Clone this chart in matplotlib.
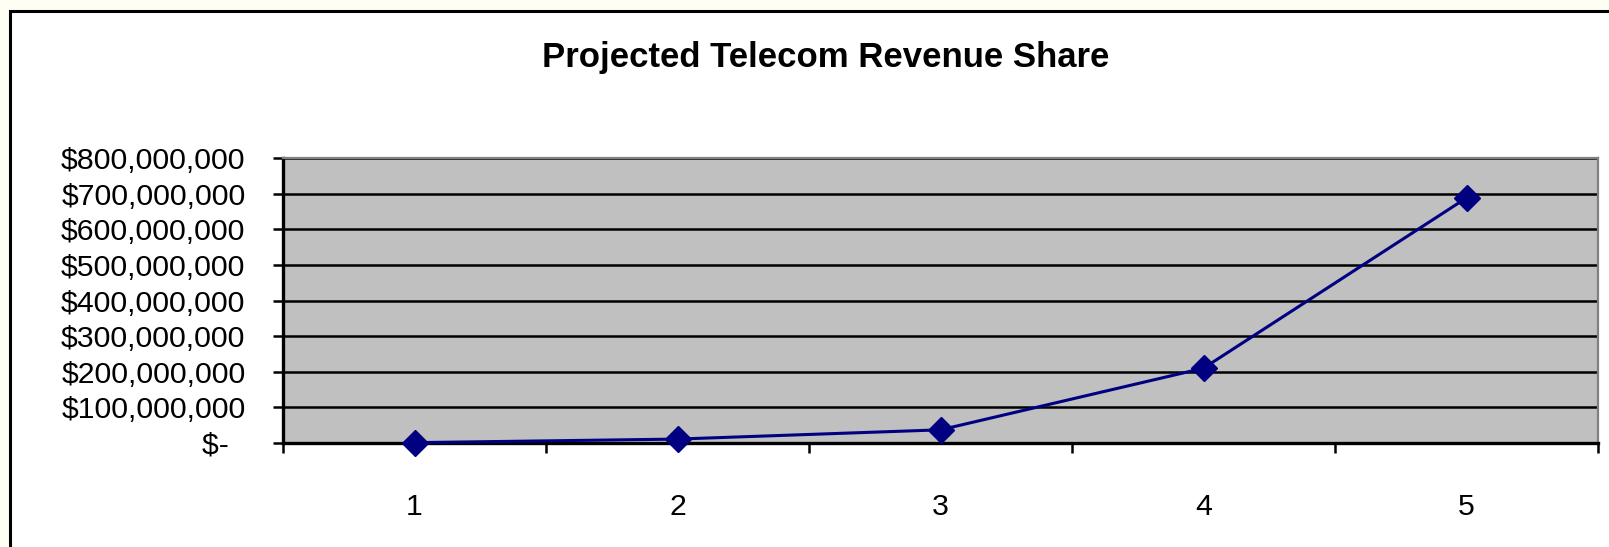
import matplotlib
matplotlib.use("Agg")
import matplotlib.pyplot as plt
from matplotlib.patches import Rectangle
from matplotlib.ticker import FixedLocator

years = [1, 2, 3, 4, 5]
revenue = [1_000_000, 11_000_000, 37_000_000, 210_000_000, 688_000_000]
y_ticks = [0, 100e6, 200e6, 300e6, 400e6, 500e6, 600e6, 700e6, 800e6]
y_labels = ["$-  ", "$100,000,000", "$200,000,000", "$300,000,000", "$400,000,000",
            "$500,000,000", "$600,000,000", "$700,000,000", "$800,000,000"]
title = "Projected Telecom Revenue Share"

plt.rcParams['font.family'] = ['Liberation Sans', 'DejaVu Sans']

W, H = 1609, 547
fig = plt.figure(figsize=(W / 100, H / 100), dpi=100, facecolor='#FFFEF3')
# chart area frame
fig.patches.append(Rectangle((9.5 / W, -0.05), 1.2, 1 - 10.5 / H + 0.05,
                             transform=fig.transFigure, facecolor='white',
                             edgecolor='black', linewidth=2.2, zorder=-10))

ax = fig.add_axes([283 / W, (H - 443) / H, (1598 - 283) / W, (443 - 158) / H])
ax.set_zorder(5)
ax.set_facecolor('#C0C0C0')
ax.plot(years, revenue, color='#000080', linewidth=2.2, marker='D',
        markersize=13, markerfacecolor='#000080', markeredgecolor='#000080',
        zorder=5, clip_on=False)
ax.set_xlim(0.5, 5.5)
ax.set_ylim(0, 800e6)

ax.set_yticks(y_ticks)
ax.set_yticklabels(y_labels, fontsize=21.8)
ax.yaxis.grid(True, color='black', linewidth=1.8)
ax.set_axisbelow(True)
ax.tick_params(axis='y', direction='out', length=7, width=1.8, pad=20, colors='black')

ax.set_xticks(years)
ax.set_xticklabels([str(y) for y in years], fontsize=21.8)
ax.xaxis.set_minor_locator(FixedLocator([0.5, 1.5, 2.5, 3.5, 4.5, 5.5]))
ax.tick_params(axis='x', which='major', length=0, pad=36)
ax.tick_params(axis='x', which='minor', direction='out', length=7, width=1.8)

for s in ['left', 'bottom']:
    ax.spines[s].set_color('black')
    ax.spines[s].set_linewidth(2.4)
for s in ['top', 'right']:
    ax.spines[s].set_color('#808080')
    ax.spines[s].set_linewidth(1.6)

fig.text(826 / W, 1 - 67 / H, title, ha='center', va='baseline',
         fontsize=25, fontweight='bold', zorder=6)

fig.savefig('out.png', dpi=100, facecolor=fig.get_facecolor())
